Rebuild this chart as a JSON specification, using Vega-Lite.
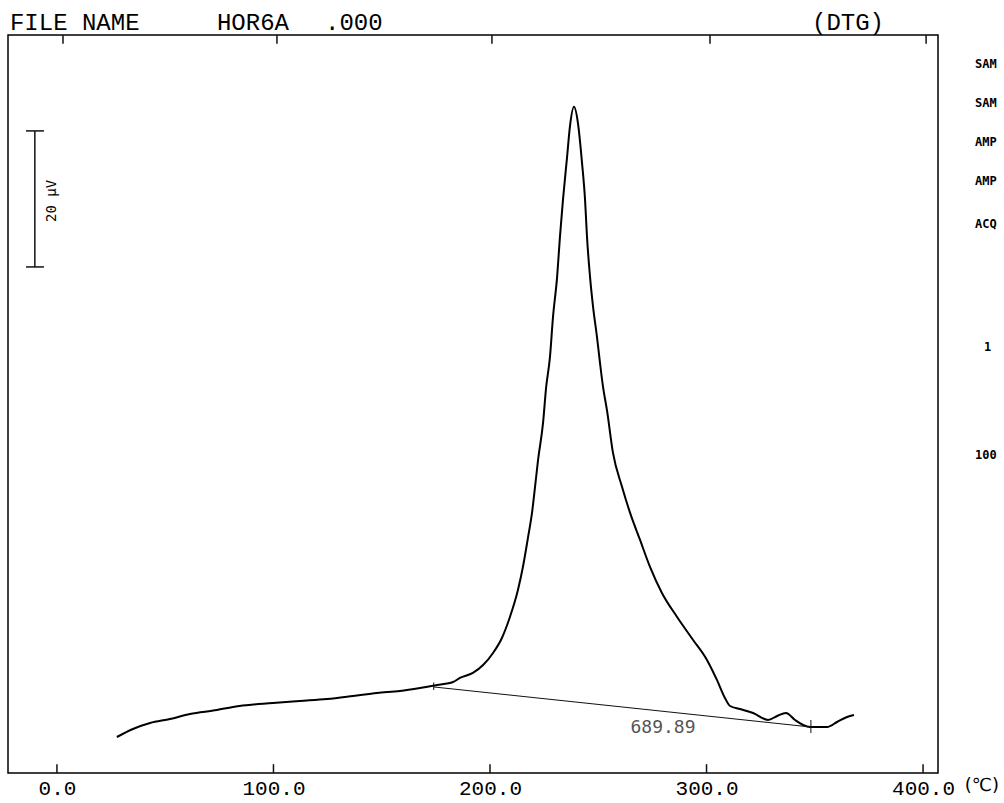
{
  "$schema": "https://vega.github.io/schema/vega-lite/v6.json",
  "width": 930,
  "height": 738,
  "autosize": {"type": "none"},
  "padding": {"left": 8, "top": 35, "right": 66, "bottom": 30},
  "background": "white",
  "config": {"view": {"stroke": "black", "strokeWidth": 1.5}},
  "datasets": {
    "curve": [
      {"t": 27.7, "v": 5.29}, {"t": 35.1, "v": 6.47}, {"t": 43.0, "v": 7.35}, {"t": 52.2, "v": 7.94},
      {"t": 61.4, "v": 8.68}, {"t": 73.9, "v": 9.26}, {"t": 81.3, "v": 9.71}, {"t": 99.8, "v": 10.29},
      {"t": 112.2, "v": 10.59}, {"t": 124.7, "v": 10.88}, {"t": 136.7, "v": 11.32}, {"t": 147.8, "v": 11.76},
      {"t": 158.4, "v": 12.06}, {"t": 167.7, "v": 12.5}, {"t": 175.5, "v": 12.94}, {"t": 182.9, "v": 13.38},
      {"t": 186.1, "v": 13.97}, {"t": 192.1, "v": 14.71}, {"t": 196.8, "v": 15.88}, {"t": 201.4, "v": 17.65},
      {"t": 205.5, "v": 19.85}, {"t": 209.2, "v": 22.94}, {"t": 212.9, "v": 26.91}, {"t": 215.2, "v": 30.29},
      {"t": 217.6, "v": 34.71}, {"t": 219.4, "v": 38.24}, {"t": 220.8, "v": 42.06}, {"t": 222.2, "v": 46.03},
      {"t": 224.5, "v": 51.47}, {"t": 225.9, "v": 56.62}, {"t": 227.7, "v": 61.18}, {"t": 229.1, "v": 67.06},
      {"t": 231.0, "v": 72.94}, {"t": 232.3, "v": 78.82}, {"t": 233.7, "v": 84.26}, {"t": 235.6, "v": 90.59},
      {"t": 236.9, "v": 95.0}, {"t": 238.8, "v": 97.94}, {"t": 240.6, "v": 95.59}, {"t": 242.5, "v": 89.71},
      {"t": 243.9, "v": 84.26}, {"t": 244.8, "v": 78.82}, {"t": 246.2, "v": 72.94}, {"t": 247.6, "v": 68.53},
      {"t": 249.4, "v": 64.12}, {"t": 250.8, "v": 60.29}, {"t": 252.2, "v": 56.76}, {"t": 254.0, "v": 53.38},
      {"t": 256.8, "v": 47.06}, {"t": 261.0, "v": 42.06}, {"t": 264.7, "v": 38.24}, {"t": 269.3, "v": 34.26},
      {"t": 273.9, "v": 30.29}, {"t": 279.4, "v": 26.47}, {"t": 286.4, "v": 22.94}, {"t": 293.8, "v": 19.56},
      {"t": 300.2, "v": 16.62}, {"t": 304.8, "v": 13.68}, {"t": 308.5, "v": 11.03}, {"t": 310.9, "v": 9.85},
      {"t": 315.5, "v": 9.41}, {"t": 321.5, "v": 8.82}, {"t": 328.4, "v": 7.79}, {"t": 332.6, "v": 8.38},
      {"t": 336.7, "v": 8.82}, {"t": 340.9, "v": 7.79}, {"t": 344.6, "v": 7.06}, {"t": 347.8, "v": 6.76},
      {"t": 351.5, "v": 6.76}, {"t": 355.7, "v": 6.76}, {"t": 360.3, "v": 7.5}, {"t": 364.9, "v": 8.24},
      {"t": 368.1, "v": 8.53}
    ],
    "rules": [
      {"t1": 174.0, "t2": 348.2, "v1": 12.65, "v2": 6.76, "w": 1},
      {"t1": 174.0, "t2": 174.0, "v1": 12.2, "v2": 13.3, "w": 1},
      {"t1": 348.2, "t2": 348.2, "v1": 5.88, "v2": 7.8, "w": 1},
      {"t1": -10.2, "t2": -10.2, "v1": 74.4, "v2": 94.4, "w": 1.5},
      {"t1": -14.3, "t2": -6.0, "v1": 74.4, "v2": 74.4, "w": 1.5},
      {"t1": -14.3, "t2": -6.0, "v1": 94.4, "v2": 94.4, "w": 1.5},
      {"t1": 0, "t2": 0, "v1": 0, "v2": 1.3, "w": 1.5},
      {"t1": 100, "t2": 100, "v1": 0, "v2": 1.3, "w": 1.5},
      {"t1": 200, "t2": 200, "v1": 0, "v2": 1.3, "w": 1.5},
      {"t1": 300, "t2": 300, "v1": 0, "v2": 1.3, "w": 1.5},
      {"t1": 400, "t2": 400, "v1": 0, "v2": 1.3, "w": 1.5},
      {"t1": 2.8, "t2": 2.8, "v1": 107.2, "v2": 108.5, "w": 1.5},
      {"t1": 101.6, "t2": 101.6, "v1": 107.2, "v2": 108.5, "w": 1.5},
      {"t1": 200.9, "t2": 200.9, "v1": 107.2, "v2": 108.5, "w": 1.5},
      {"t1": 301.6, "t2": 301.6, "v1": 107.2, "v2": 108.5, "w": 1.5},
      {"t1": 401.4, "t2": 401.4, "v1": 107.2, "v2": 108.5, "w": 1.5}
    ],
    "header": [
      {"t": -21.7, "v": 109.3, "label": "FILE NAME"},
      {"t": 73.9, "v": 109.3, "label": "HOR6A"},
      {"t": 123.8, "v": 109.3, "label": ".000"},
      {"t": 348.7, "v": 109.3, "label": "(DTG)"}
    ],
    "side": [
      {"t": 424.0, "v": 104.3, "label": "SAM"},
      {"t": 424.0, "v": 98.5, "label": "SAM"},
      {"t": 424.0, "v": 92.8, "label": "AMP"},
      {"t": 424.0, "v": 87.1, "label": "AMP"},
      {"t": 424.0, "v": 80.7, "label": "ACQ"},
      {"t": 428.2, "v": 62.6, "label": "1"},
      {"t": 424.0, "v": 46.8, "label": "100"}
    ],
    "scale": [{"t": -2.3, "v": 84.1, "label": "20 μV"}],
    "area": [{"t": 279.9, "v": 6.6, "label": "689.89"}],
    "unit": [{"t": 419.3, "v": -1.9, "label": "(℃)"}]
  },
  "resolve": {"axis": {"x": "independent"}},
  "layer": [
    {
      "data": {"name": "curve"},
      "mark": {"type": "line", "color": "black", "strokeWidth": 2, "interpolate": "monotone"},
      "encoding": {
        "x": {"field": "t", "type": "quantitative", "scale": {"domain": [-22.6, 406.9], "nice": false, "zero": false},
          "axis": {"orient": "bottom", "values": [0, 100, 200, 300, 400], "title": null, "domain": false, "grid": false,
            "ticks": false, "labelPadding": 4,
            "labelExpr": "format(datum.value, '.1f')", "labelFont": "Liberation Mono", "labelFontSize": 21,
            "labelColor": "black", "labelBaseline": "top", "labelFlush": false, "labelOverlap": false}},
        "y": {"field": "v", "type": "quantitative", "scale": {"domain": [0, 108.5], "nice": false, "zero": false}, "axis": null}
      }
    },
    {
      "data": {"name": "rules"},
      "mark": {"type": "rule", "color": "#111"},
      "encoding": {
        "x": {"field": "t1", "type": "quantitative", "axis": null},
        "x2": {"field": "t2"},
        "y": {"field": "v1", "type": "quantitative"},
        "y2": {"field": "v2"},
        "strokeWidth": {"field": "w", "type": "quantitative", "scale": null, "legend": null}
      }
    },
    {
      "data": {"name": "header"},
      "mark": {"type": "text", "font": "Liberation Mono", "fontSize": 24, "align": "left", "baseline": "alphabetic", "color": "black"},
      "encoding": {
        "x": {"field": "t", "type": "quantitative", "axis": null},
        "y": {"field": "v", "type": "quantitative"},
        "text": {"field": "label"}
      }
    },
    {
      "data": {"name": "side"},
      "mark": {"type": "text", "font": "DejaVu Sans Mono", "fontSize": 12, "fontWeight": "bold", "align": "left", "baseline": "middle", "color": "black"},
      "encoding": {
        "x": {"field": "t", "type": "quantitative", "axis": null},
        "y": {"field": "v", "type": "quantitative"},
        "text": {"field": "label"}
      }
    },
    {
      "data": {"name": "scale"},
      "mark": {"type": "text", "font": "DejaVu Sans Mono", "fontSize": 14, "angle": 270, "align": "center", "baseline": "middle", "color": "black"},
      "encoding": {
        "x": {"field": "t", "type": "quantitative", "axis": null},
        "y": {"field": "v", "type": "quantitative"},
        "text": {"field": "label"}
      }
    },
    {
      "data": {"name": "area"},
      "mark": {"type": "text", "font": "DejaVu Sans Mono", "fontSize": 18, "align": "center", "baseline": "middle", "color": "#555"},
      "encoding": {
        "x": {"field": "t", "type": "quantitative", "axis": null},
        "y": {"field": "v", "type": "quantitative"},
        "text": {"field": "label"}
      }
    },
    {
      "data": {"name": "unit"},
      "mark": {"type": "text", "font": "DejaVu Sans", "fontSize": 18, "align": "left", "baseline": "middle", "color": "black"},
      "encoding": {
        "x": {"field": "t", "type": "quantitative", "axis": null},
        "y": {"field": "v", "type": "quantitative"},
        "text": {"field": "label"}
      }
    }
  ]
}
